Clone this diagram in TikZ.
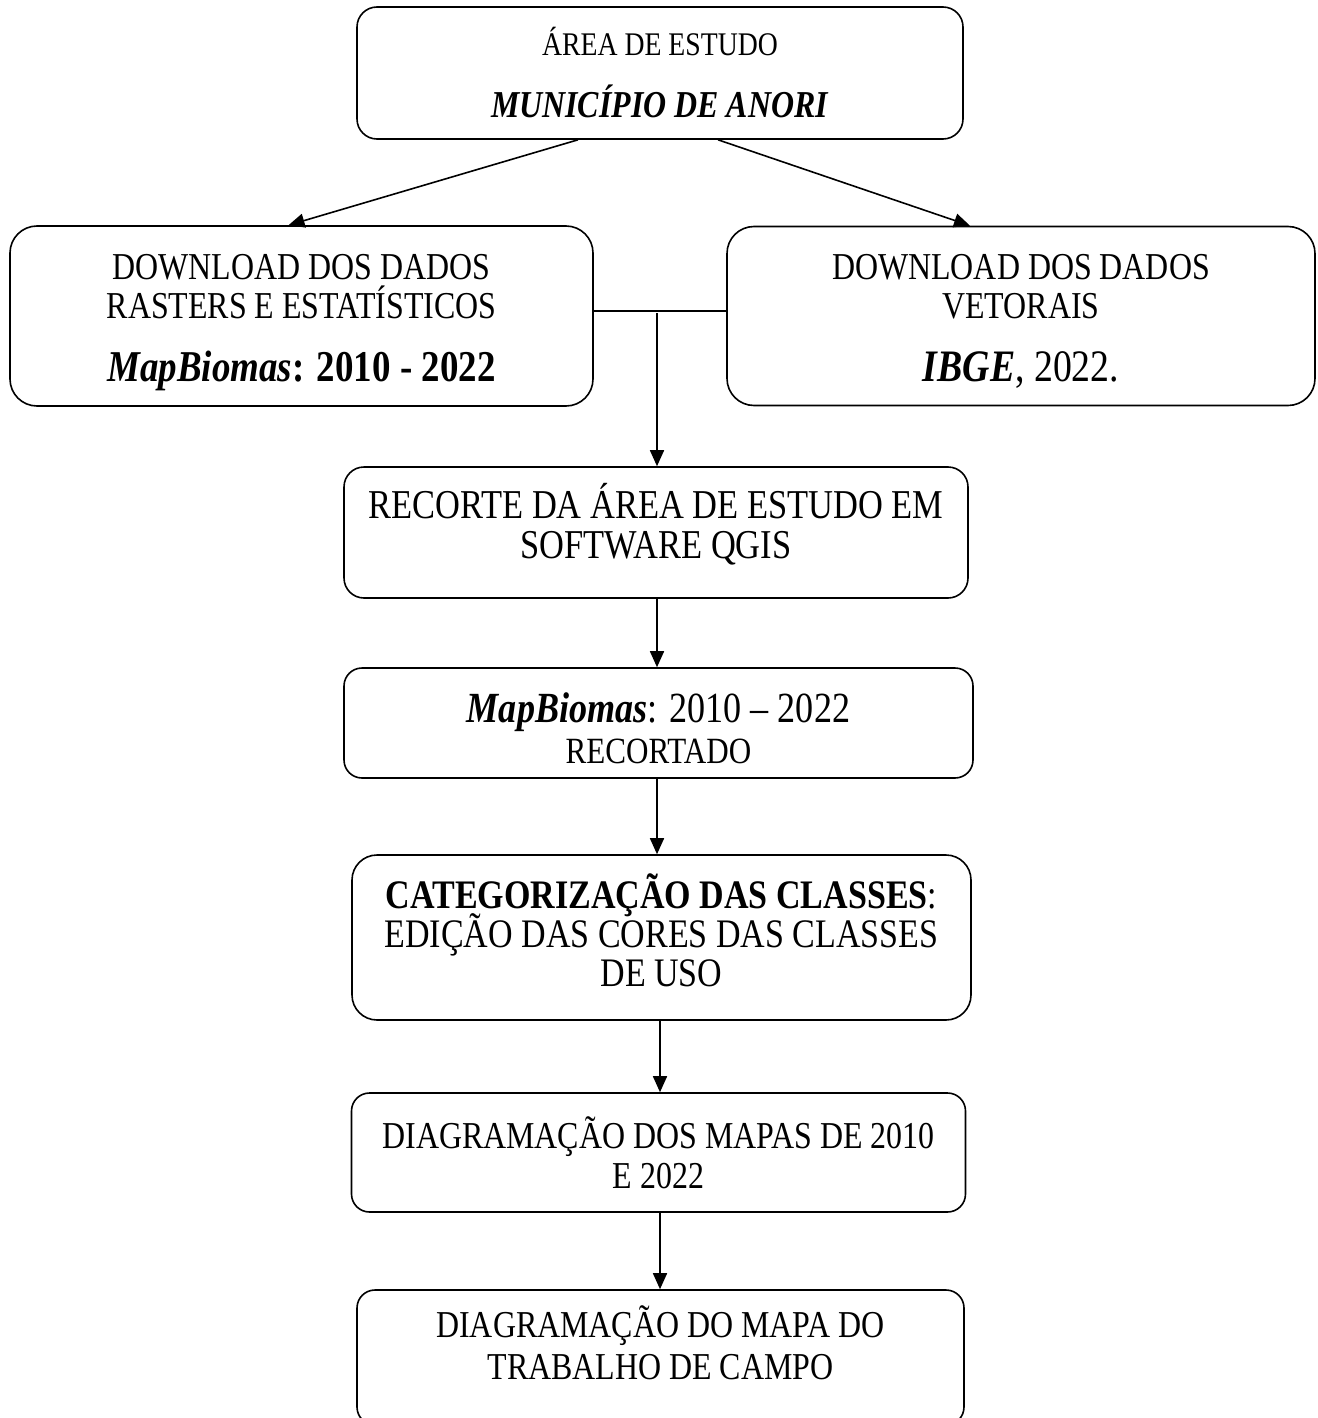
\documentclass[tikz,border=0pt]{standalone}
\usepackage{fontspec}
\setmainfont{Liberation Serif}[FakeStretch=0.84]
\usetikzlibrary{arrows.meta}
\setlength{\lineskiplimit}{-100pt}

\begin{document}
\begin{tikzpicture}[x=1pt, y=-1pt,
        caixa/.style={draw, line width=1.6pt, align=center, inner sep=0pt},
        seta/.style={line width=1.6pt, -{Triangle[length=16pt, width=14pt]}},
        linha/.style={line width=1.4pt}]
    \useasboundingbox (0,0) rectangle (1317,1418);

    \node [caixa, rounded corners=20pt, minimum width=606pt, minimum height=132pt,
        font=\fontsize{33}{62}\selectfont] (area) at (660,73)
        {ÁREA DE ESTUDO\\ {\fontsize{38}{62}\selectfont\textbf{\textit{MUNICÍPIO DE ANORI}}}};

    \node [caixa, rounded corners=27pt, minimum width=583pt, minimum height=180pt,
        font=\fontsize{38}{39}\selectfont] (rasters) at (301.5,316)
        {\mbox{}\\ DOWNLOAD DOS DADOS\\ RASTERS E ESTATÍSTICOS\\[24pt]
        {\fontsize{44}{40}\selectfont\textbf{\textit{MapBiomas}: 2010 - 2022}}};
    \node [caixa, rounded corners=27pt, minimum width=588pt, minimum height=179pt,
        font=\fontsize{38}{39}\selectfont] (vetor) at (1021,316)
        {\mbox{}\\[-4pt] DOWNLOAD DOS DADOS\\ VETORAIS\\[24pt]
        {\fontsize{45}{40}\selectfont\textbf{\textit{IBGE}}, 2022.}};

    % \draw (rasters.east) -- (vetor.west);
    \draw [linha] ([yshift=5pt]rasters.east) -- ([yshift=5pt]vetor.west);
    \coordinate (juncao) at (657,313);

    \node [caixa, rounded corners=20pt, minimum width=624pt, minimum height=131pt,
        font=\fontsize{41}{40}\selectfont] (recorte) at (656,532.5)
        {RECORTE DA ÁREA DE ESTUDO EM\\ SOFTWARE QGIS\\[-16pt]\mbox{}};

    \node [caixa, rounded corners=18pt, minimum width=629pt, minimum height=110pt,
        font=\fontsize{37}{41}\selectfont] (mapbiomas) at (658.5,723)
        {\mbox{}\\ {\fontsize{43}{41}\selectfont\textbf{\textit{MapBiomas}}: 2010 – 2022}\\ RECORTADO};

    \node [caixa, rounded corners=25pt, minimum width=619pt, minimum height=165pt,
        font=\fontsize{40.5}{39}\selectfont] (categorias) at (661.5,937.5)
        {\textbf{CATEGORIZAÇÃO DAS CLASSES}:\\ EDIÇÃO DAS CORES DAS CLASSES\\ DE USO\\[-25pt]\mbox{}};

    \node [caixa, rounded corners=18pt, minimum width=614pt, minimum height=119pt,
        font=\fontsize{38}{40}\selectfont] (mapas) at (658.5,1152.5)
        {DIAGRAMAÇÃO DOS MAPAS DE 2010\\ E 2022};

    \node [caixa, rounded corners=18pt, minimum width=607pt, minimum height=135pt,
        font=\fontsize{38}{42}\selectfont] (campo) at (660.5,1357.5)
        {DIAGRAMAÇÃO DO MAPA DO\\ TRABALHO DE CAMPO\\[-12pt]\mbox{}};

    \draw [seta] ([xshift=-82pt]area.south) -- ([xshift=-13pt]rasters.north);
    \draw [seta] ([xshift=58pt]area.south) -- ([xshift=-51pt]vetor.north);
    \draw [seta] (juncao) -- (juncao |- recorte.north);
    \draw [seta] (recorte.south -| juncao) -- (juncao |- mapbiomas.north);
    \draw [seta] (mapbiomas.south -| juncao) -- (juncao |- categorias.north);
    \draw [seta] ([xshift=-1.5pt]categorias.south) -- ([xshift=-1.5pt]categorias.south |- mapas.north);
    \draw [seta] ([xshift=1.5pt]mapas.south) -- ([xshift=1.5pt]mapas.south |- campo.north);
\end{tikzpicture}
\end{document}
